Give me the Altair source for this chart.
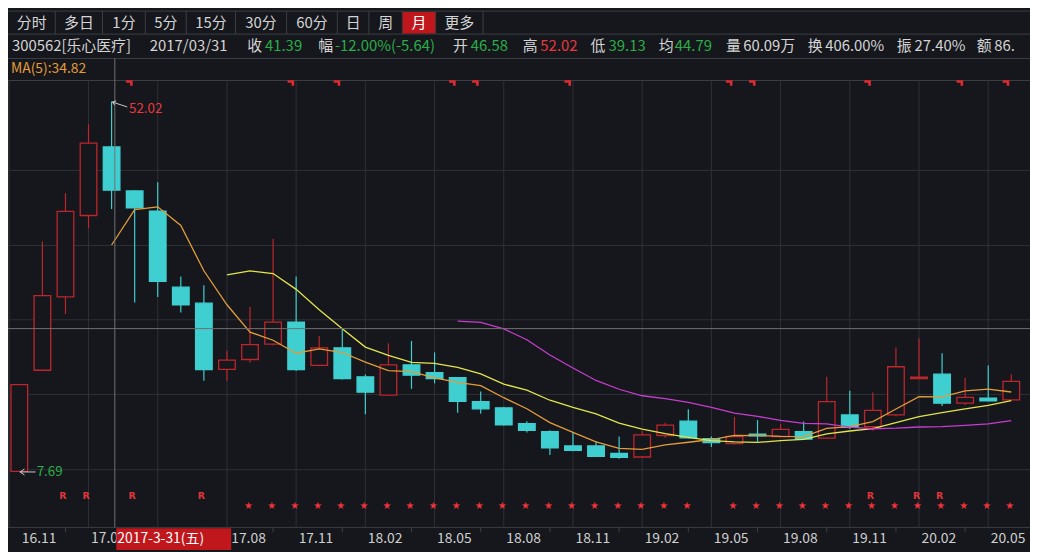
import altair as alt
import pandas as pd

# ---------------- data ----------------
MONTHS = ["16.11", "16.12",
          "17.01", "17.02", "17.03", "17.04", "17.05", "17.06", "17.07", "17.08", "17.09", "17.10", "17.11", "17.12",
          "18.01", "18.02", "18.03", "18.04", "18.05", "18.06", "18.07", "18.08", "18.09", "18.10", "18.11", "18.12",
          "19.01", "19.02", "19.03", "19.04", "19.05", "19.06", "19.07", "19.08", "19.09", "19.10", "19.11", "19.12",
          "20.01", "20.02", "20.03", "20.04", "20.05", "20.06"]
OPEN = [7.69, 19.81, 28.60, 38.36, 46.58, 41.30, 38.87, 29.77, 27.85, 19.92, 21.10, 22.93, 25.59, 20.39,
        22.50, 19.02, 16.83, 20.46, 19.53, 18.91, 16.06, 15.31, 13.40, 12.46, 10.73, 10.73, 9.84, 9.41,
        11.99, 13.71, 11.60, 11.02, 12.14, 11.87, 12.46, 11.67, 14.45, 13.04, 14.45, 18.82, 19.34, 15.86,
        16.48, 16.25]
HIGH = [18.10, 35.23, 41.02, 49.30, 52.02, 41.40, 42.35, 31.06, 30.01, 22.15, 27.43, 35.55, 31.06, 23.91,
        24.80, 19.29, 23.04, 23.32, 21.95, 18.95, 17.26, 15.40, 13.71, 12.61, 12.42, 11.32, 11.87, 12.54,
        13.51, 15.15, 11.87, 14.22, 13.83, 13.36, 13.66, 19.02, 17.35, 17.15, 22.54, 23.63, 21.84, 18.91,
        20.39, 19.34]
LOW = [7.69, 19.81, 26.56, 36.81, 39.13, 27.93, 28.60, 26.72, 18.55, 18.55, 20.70, 22.80, 19.72, 20.30,
       18.70, 14.53, 16.75, 17.58, 18.24, 14.72, 14.60, 13.20, 12.34, 9.64, 10.11, 9.40, 9.21, 9.35,
       11.72, 11.60, 10.62, 10.90, 11.25, 11.80, 11.50, 11.60, 12.78, 12.57, 14.30, 18.80, 15.54, 15.66,
       16.10, 16.20]
CLOSE = [18.10, 28.75, 38.85, 47.03, 41.39, 39.27, 30.47, 27.66, 19.88, 21.02, 22.89, 25.59, 19.88, 22.50,
         18.82, 17.18, 20.46, 19.22, 18.82, 16.09, 15.19, 13.28, 12.61, 10.50, 10.20, 9.49, 9.38, 12.07,
         13.24, 11.72, 11.13, 11.87, 11.95, 12.73, 11.56, 16.06, 12.96, 15.00, 20.23, 18.99, 15.86, 16.56,
         16.13, 18.47]

SEL = 4                                   # candle under the cross-hair
STOCK = "300562[乐心医疗]"
SEL_DATE = "2017/03/31"
SEL_TAG = "2017-3-31(五)"
CHG_TEXT = "-12.00%(-5.64)"
EXTRA = [("均", "44.79"), ("量", "60.09万"), ("换", "406.00%"), ("振", "27.40%"), ("额", "86.")]

R_IDX = [2, 3, 5, 8, 37, 39, 40]
STAR_IDX = [10, 11, 12, 13, 14, 15, 16, 17, 18, 19, 20, 21, 22, 23, 24, 25, 26, 27, 28, 29,
            31, 32, 33, 34, 35, 36, 37, 38, 39, 40, 41, 42, 43]
FLAG_IDX = [5, 12, 14, 19, 20, 24, 31, 32, 37, 41, 43]
GRID_PRICES = [43.76, 34.77, 25.86, 16.91, 7.89]

TABS = ["分时", "多日", "1分", "5分", "15分", "30分", "60分", "日", "周", "月", "更多"]
ACTIVE_TAB = "月"

# ---------------- layout / style ----------------
W, H = 1030, 544
KX, KY = W / 1038, H / 552


def sx(v):
    return v * KX


def sy(v):
    return v * KY


FONT = "Noto Sans CJK SC"
BG = "#15171c"
GRIDC = "#2d3036"
LINEC = "#3b3e44"
CROSSC = "#707070"
RED = "#bd262c"
CYAN = "#3fcfd0"
TXT = "#d4d4d4"
GREEN = "#2aae48"
REDTXT = "#e8383d"
TAB_RED = "#c0171d"
MA_COLORS = {5: "#e39c3b", 10: "#e4e44c", 20: "#c83ccf"}

TAB_EDGES = [0, 48, 96, 139.5, 181, 231, 283, 334.5, 366.5, 400.5, 434.3, 482.5]
INFO_X = [4, 144, 243, 261, 315, 332, 452, 470, 522.7, 540.7, 591.7, 610, 661, 677.3,
          729.3, 746.7, 812.3, 830, 902.7, 920.7, 984, 1001.7]

X_I0, X_STEP = 11.5, 23.43          # pixel column of first candle, candle spacing
Y_HI_PX, Y_LO_PX = 93.5, 471.7      # pixel rows of the period high / low
PLOT_TOP, PLOT_BOT = 72, 529
HALF = 0.36
DATE_BOX = (110, 226.7)             # cross-hair date tag, reference px
LABEL_DX = 2.5
LABEL_W = 35

df = pd.DataFrame({"i": list(range(len(MONTHS))), "month": MONTHS, "open": OPEN,
                   "high": HIGH, "low": LOW, "close": CLOSE})
df["dir"] = ["up" if c >= o else "down" for o, c in zip(OPEN, CLOSE)]

hi, lo = max(HIGH), min(LOW)
ppp = (hi - lo) / (Y_LO_PX - Y_HI_PX)
XS = alt.Scale(domain=[(0 - X_I0) / X_STEP, (1038 - X_I0) / X_STEP], range=[0, W], nice=False, zero=False)
YS = alt.Scale(domain=[hi - (PLOT_BOT - Y_HI_PX) * ppp, hi + (Y_HI_PX - PLOT_TOP) * ppp],
               range=[sy(PLOT_BOT), sy(PLOT_TOP)], nice=False, zero=False)


def X(f):
    return alt.X(f, scale=XS, axis=None)


def Y(f):
    return alt.Y(f, scale=YS, axis=None)


def PX(f):
    return alt.X(f, scale=None, axis=None)


def PY(f):
    return alt.Y(f, scale=None, axis=None)


base = alt.Chart(df)

# ---------------- chrome lines ----------------
segs = []


def seg(x1, y1, x2, y2, c):
    segs.append({"x": sx(x1), "x2": sx(x2), "y": sy(y1), "y2": sy(y2), "c": c})


seg(0, 1, 1038, 1, LINEC)
seg(0, 24.5, 1038, 24.5, LINEC)
seg(0, 49.5, 1038, 49.5, LINEC)
seg(0, PLOT_TOP, 1038, PLOT_TOP, LINEC)
seg(0, PLOT_BOT, 1038, PLOT_BOT, LINEC)
seg(1, PLOT_TOP, 1, PLOT_BOT, LINEC)
for e in TAB_EDGES[1:]:
    seg(e, 1, e, 24.5, LINEC)
chrome = alt.Chart(pd.DataFrame(segs)).mark_rule(strokeWidth=1).encode(
    x=PX("x:Q"), x2="x2:Q", y=PY("y:Q"), y2="y2:Q", color=alt.Color("c:N", scale=None))

k = TABS.index(ACTIVE_TAB)
tab_rect = alt.Chart(pd.DataFrame({"t": [ACTIVE_TAB]})).mark_rect(color=TAB_RED).encode(
    x=alt.value(sx(TAB_EDGES[k] + 0.5)), x2=alt.value(sx(TAB_EDGES[k + 1] - 0.5)),
    y=alt.value(sy(2)), y2=alt.value(sy(24)))
tab_df = pd.DataFrame({"t": TABS,
                       "x": [sx((TAB_EDGES[j] + TAB_EDGES[j + 1]) / 2) for j in range(len(TABS))],
                       "c": ["#ffffff" if t == ACTIVE_TAB else TXT for t in TABS]})
tab_text = alt.Chart(tab_df).mark_text(font=FONT, fontSize=15, baseline="middle", align="center").encode(
    x=PX("x:Q"), y=alt.value(sy(13)), text="t:N", color=alt.Color("c:N", scale=None))

info_items = [(STOCK, TXT), (SEL_DATE, TXT),
              ("收", TXT), (f"{CLOSE[SEL]:.2f}", GREEN),
              ("幅", TXT), (CHG_TEXT, GREEN),
              ("开", TXT), (f"{OPEN[SEL]:.2f}", GREEN),
              ("高", TXT), (f"{HIGH[SEL]:.2f}", REDTXT),
              ("低", TXT), (f"{LOW[SEL]:.2f}", GREEN),
              ("均", TXT), (EXTRA[0][1], GREEN)]
for lab, val in EXTRA[1:]:
    info_items += [(lab, TXT), (val, TXT)]
info_df = pd.DataFrame({"t": [a for a, _ in info_items], "c": [b for _, b in info_items],
                        "x": [sx(v) for v in INFO_X]})
info_text = alt.Chart(info_df).mark_text(font=FONT, fontSize=15, baseline="middle", align="left").encode(
    x=PX("x:Q"), y=alt.value(sy(37)), text="t:N", color=alt.Color("c:N", scale=None))

ma5_sel = sum(CLOSE[SEL - 4:SEL + 1]) / 5
ma_label = alt.Chart(pd.DataFrame({"t": [f"MA(5):{ma5_sel:.2f}"]})).mark_text(
    font=FONT, fontSize=14, baseline="middle", align="left", color=MA_COLORS[5]).encode(
    x=alt.value(sx(3)), y=alt.value(sy(60)), text="t:N")

# ---------------- grid & axis ----------------
hgrid = alt.Chart(pd.DataFrame({"p": GRID_PRICES})).mark_rule(color=GRIDC, strokeWidth=1).encode(
    y=Y("p:Q"), x=alt.value(0), x2=alt.value(W))
vgrid = base.transform_filter("datum.i % 3 == 0 && datum.i > 0").mark_rule(color=GRIDC, strokeWidth=1).encode(
    x=X("i:Q"), y=alt.value(sy(PLOT_TOP)), y2=alt.value(sy(PLOT_BOT)))
xticks = base.transform_filter("datum.i % 3 == 2").mark_rule(color=LINEC, strokeWidth=1).encode(
    x=X("i:Q"), y=alt.value(sy(PLOT_BOT)), y2=alt.value(sy(534)))

# month labels every 3rd candle; the cross-hair date tag covers some of them
normal_idx, cut_idx, pushed_idx = [], [], []
for i in range(0, len(MONTHS), 3):
    left = X_I0 + i * X_STEP + LABEL_DX
    if left < DATE_BOX[0] < left + LABEL_W:
        cut_idx.append(i)
    elif DATE_BOX[0] <= left < DATE_BOX[1] - 6:
        continue
    elif DATE_BOX[1] - 6 <= left < DATE_BOX[1]:
        pushed_idx.append(i)
    else:
        normal_idx.append(i)


def label_layer(idx, **kw):
    return base.transform_filter(alt.FieldOneOfPredicate(field="i", oneOf=idx)).mark_text(
        font=FONT, fontSize=14, align="left", baseline="middle", color="#cfcfcf", **kw).encode(
        x=X("i:Q"), y=alt.value(sy(541)), text="month:N")


label_layers = [label_layer(normal_idx, dx=LABEL_DX)]
for i in cut_idx:
    left = X_I0 + i * X_STEP + LABEL_DX
    label_layers.append(label_layer([i], dx=LABEL_DX, limit=sx(DATE_BOX[0] - left) + 3,
                                    ellipsis="\u200b"))
for i in pushed_idx:
    label_layers.append(label_layer([i], dx=sx(DATE_BOX[1] - (X_I0 + i * X_STEP))))

# ---------------- candles ----------------
dir_scale_stroke = alt.Scale(domain=["up", "down"], range=[RED, CYAN])
dir_scale_fill = alt.Scale(domain=["up", "down"], range=[BG, CYAN])
wick = base.mark_rule(strokeWidth=1.2).encode(
    x=X("i:Q"), y=Y("low:Q"), y2="high:Q",
    color=alt.Color("dir:N", scale=dir_scale_stroke, legend=None))
body = base.transform_calculate(xl=f"datum.i - {HALF}", xr=f"datum.i + {HALF}").mark_rect(
    strokeWidth=1.3).encode(
    x=X("xl:Q"), x2="xr:Q", y=Y("open:Q"), y2="close:Q",
    fill=alt.Fill("dir:N", scale=dir_scale_fill, legend=None),
    stroke=alt.Stroke("dir:N", scale=dir_scale_stroke, legend=None))


def ma_layer(n):
    return base.transform_window(
        ma="mean(close)", cnt="count()", frame=[-(n - 1), 0], sort=[alt.SortField("i")]
    ).transform_filter(f"datum.cnt == {n}").mark_line(
        color=MA_COLORS[n], strokeWidth=1.3).encode(x=X("i:Q"), y=Y("ma:Q"))


# ---------------- annotations ----------------
FLAG_PATH = "M-2.16,-0.58H-0.5V0.83H-1.16V0.08H-2.16Z"
flags = alt.Chart(pd.DataFrame({"i": FLAG_IDX})).mark_point(
    shape=FLAG_PATH, filled=True, color="#e02a30", size=64, opacity=1, strokeWidth=0).encode(
    x=X("i:Q"), y=alt.value(sy(74)))
rmarks = alt.Chart(pd.DataFrame({"i": R_IDX, "t": ["R"] * len(R_IDX)})).mark_text(
    font="DejaVu Sans", fontSize=9.5, fontWeight="bold", color="#e0353a", dx=-2.5,
    baseline="middle", align="center").encode(x=X("i:Q"), y=alt.value(sy(496.5)), text="t:N")
stars = alt.Chart(pd.DataFrame({"i": STAR_IDX, "t": ["★"] * len(STAR_IDX)})).mark_text(
    font="DejaVu Sans", fontSize=10, color="#f0323a", dx=-1.5,
    baseline="middle", align="center").encode(x=X("i:Q"), y=alt.value(sy(507)), text="t:N")

hi_row = base.transform_joinaggregate(mx="max(high)").transform_filter("datum.high == datum.mx")
lo_row = base.transform_joinaggregate(mn="min(low)").transform_filter("datum.low == datum.mn")
HI_ARROW = "M3.95,1.37L0.2,0.12M0.8,0.92L0.2,0.12L1.16,-0.17"
LO_ARROW = "M4.1,0.15H0.15M1.3,-0.6L0.15,0.15L1.3,0.9"
hi_arrow = hi_row.mark_point(shape=HI_ARROW, filled=False, color="#c8c8c8", size=64, opacity=1,
                             strokeWidth=1).encode(x=X("i:Q"), y=Y("high:Q"))
lo_arrow = lo_row.mark_point(shape=LO_ARROW, filled=False, color="#c8c8c8", size=64, opacity=1,
                             strokeWidth=1).encode(x=X("i:Q"), y=Y("low:Q"))
hi_text = hi_row.mark_text(font=FONT, fontSize=13.5, align="left", baseline="middle", dx=17.5, dy=7.5,
                           color=REDTXT).encode(x=X("i:Q"), y=Y("high:Q"), text=alt.Text("high:Q", format=".2f"))
lo_text = lo_row.mark_text(font=FONT, fontSize=13.5, align="left", baseline="middle", dx=17.5, dy=0.5,
                           color=GREEN).encode(x=X("i:Q"), y=Y("low:Q"), text=alt.Text("low:Q", format=".2f"))

# ---------------- cross-hair ----------------
cross = alt.Chart(pd.DataFrame({"x": [sx(108.5), 0], "x2": [sx(108.5), W],
                                "y": [sy(49.5), sy(325.7)], "y2": [sy(PLOT_BOT), sy(325.7)]})).mark_rule(
    color=CROSSC, strokeWidth=1).encode(x=PX("x:Q"), x2="x2:Q", y=PY("y:Q"), y2="y2:Q")
date_box = alt.Chart(pd.DataFrame({"t": [SEL_TAG]})).mark_rect(color=TAB_RED).encode(
    x=alt.value(sx(DATE_BOX[0])), x2=alt.value(sx(DATE_BOX[1])), y=alt.value(sy(530)), y2=alt.value(H))
date_text = alt.Chart(pd.DataFrame({"t": [SEL_TAG]})).mark_text(
    font=FONT, fontSize=14, align="left", baseline="middle", color="#ffffff").encode(
    x=alt.value(sx(DATE_BOX[0] + 1)), y=alt.value(sy(541)), text="t:N")

layers = [chrome, hgrid, vgrid, xticks, tab_rect, tab_text, info_text, ma_label,
          wick, body, ma_layer(5), ma_layer(10), ma_layer(20),
          cross, flags, rmarks, stars, hi_arrow, lo_arrow, hi_text, lo_text,
          *label_layers, date_box, date_text]

chart = alt.layer(*layers).resolve_scale(
    x="independent", y="independent", color="independent", fill="independent", stroke="independent"
).properties(
    width=W, height=H, padding=0, background=BG,
    autosize=alt.AutoSizeParams(type="none")
).configure_view(strokeWidth=0)

chart.save("out.html", embed_options={"renderer": "svg", "actions": False})
